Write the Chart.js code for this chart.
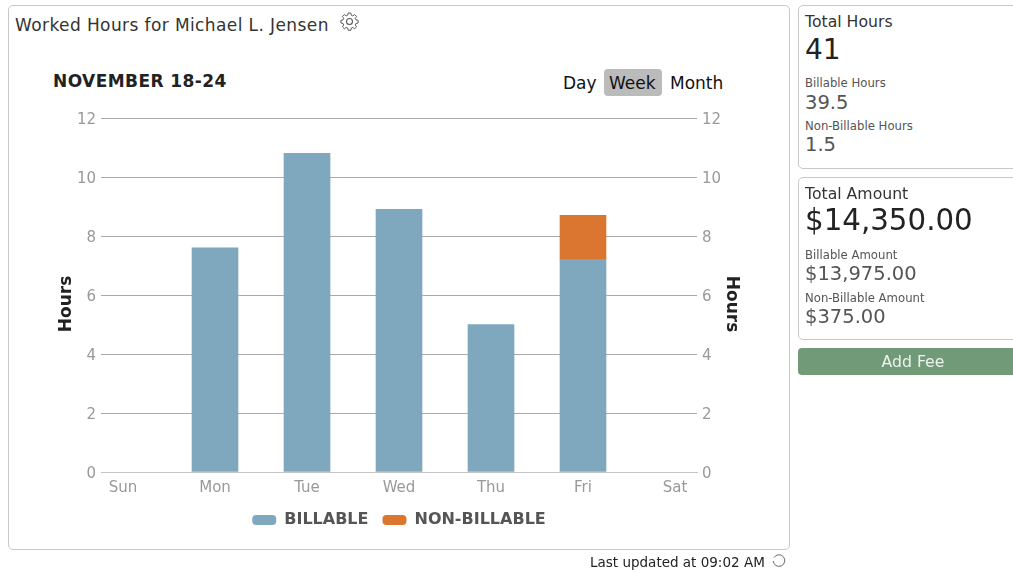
<!DOCTYPE html>
<html><head><meta charset="utf-8">
<script src="https://cdn.jsdelivr.net/npm/chart.js@4"></script>
<style>
html,body{margin:0;padding:0;background:#fff;overflow:hidden;width:1013px;height:571px;font-family:"DejaVu Sans",sans-serif;color:#222}
.abs{position:absolute;white-space:nowrap}
.card{position:absolute;background:#fff;border:1px solid #c8c8c8;border-radius:5px;box-sizing:border-box}
#chartWrap{position:absolute;left:0;top:0;width:800px;height:560px}
</style></head><body>
<div class="card" style="left:8px;top:5px;width:782px;height:545px"></div>
<div class="abs" style="left:15px;top:16px;font-size:17px;letter-spacing:.4px;line-height:19px;color:#333">Worked Hours for Michael L. Jensen</div>
<svg class="abs" style="left:339px;top:11px" width="21" height="21" viewBox="0 0 24 24" fill="none" stroke="#555" stroke-width="1.2"><circle cx="12" cy="12" r="3.4"/><path d="M10.3 2.5h3.4l.5 2.7 1.9.8 2.3-1.6 2.4 2.4-1.6 2.3.8 1.9 2.7.5v3.4l-2.7.5-.8 1.9 1.6 2.3-2.4 2.4-2.3-1.6-1.9.8-.5 2.7h-3.4l-.5-2.7-1.9-.8-2.3 1.6-2.4-2.4 1.6-2.3-.8-1.9-2.7-.5v-3.4l2.7-.5.8-1.9-1.6-2.3 2.4-2.4 2.3 1.6 1.9-.8z" transform="translate(12 12) scale(.92) translate(-12 -13)"/></svg>
<div class="abs" style="left:53px;top:71px;font-size:17px;letter-spacing:.42px;line-height:20px;font-weight:bold;color:#222">NOVEMBER 18-24</div>
<div class="abs" style="left:604px;top:69px;width:58px;height:27px;background:#bbb;border-radius:4px"></div>
<div class="abs" style="left:563px;top:73px;font-size:17px;line-height:20px;color:#111">Day</div>
<div class="abs" style="left:609px;top:73px;font-size:17px;line-height:20px;color:#111">Week</div>
<div class="abs" style="left:670px;top:73px;font-size:17px;line-height:20px;color:#111">Month</div>
<div id="chartWrap"><canvas id="c"></canvas></div>
<div class="abs" style="left:590px;top:554px;font-size:13.5px;line-height:17px;color:#222">Last updated at 09:02 AM</div>
<svg class="abs" style="left:772px;top:554px" width="14" height="14" viewBox="0 0 14 14" fill="none" stroke="#666" stroke-width="1"><path d="M2 3.6A5.8 5.8 0 1 1 1.2 7"/></svg>

<div class="card" style="left:798px;top:5px;width:230px;height:164px"></div>
<div class="abs" style="left:805px;top:13px;font-size:15.7px;line-height:18px;color:#333">Total Hours</div>
<div class="abs" style="left:805px;top:33px;font-size:28px;line-height:33px;color:#222">41</div>
<div class="abs" style="left:805px;top:76px;font-size:11.7px;line-height:14px;color:#555">Billable Hours</div>
<div class="abs" style="left:805px;top:91px;font-size:19.5px;line-height:23px;color:#555">39.5</div>
<div class="abs" style="left:805px;top:119px;font-size:11.7px;line-height:14px;color:#555">Non-Billable Hours</div>
<div class="abs" style="left:805px;top:133px;font-size:19.5px;line-height:23px;color:#555">1.5</div>

<div class="card" style="left:798px;top:177px;width:230px;height:163px"></div>
<div class="abs" style="left:805px;top:185px;font-size:15.7px;line-height:18px;color:#333">Total Amount</div>
<div class="abs" style="left:805px;top:204px;font-size:29.3px;line-height:33px;color:#222">$14,350.00</div>
<div class="abs" style="left:805px;top:248px;font-size:11.7px;line-height:14px;color:#555">Billable Amount</div>
<div class="abs" style="left:805px;top:262px;font-size:19.5px;line-height:23px;color:#555">$13,975.00</div>
<div class="abs" style="left:805px;top:291px;font-size:11.7px;line-height:14px;color:#555">Non-Billable Amount</div>
<div class="abs" style="left:805px;top:305px;font-size:19.5px;line-height:23px;color:#555">$375.00</div>

<div class="abs" style="left:798px;top:348px;width:230px;height:27px;background:#719a78;border-radius:4px"></div>
<div class="abs" style="left:798px;top:352px;width:230px;text-align:center;font-size:15.7px;line-height:19px;color:#eef3ee">Add Fee</div>

<script>
const days = ["Sun","Mon","Tue","Wed","Thu","Fri","Sat"];
const billable = [null,7.6,10.8,8.9,5.0,7.2,null];
const nonBillable = [null,null,null,null,null,1.5,null];
const yTicks = [0,2,4,6,8,10,12];
const seriesNames = ["BILLABLE","NON-BILLABLE"];
const seriesColors = ["#7fa8bf","#db7631"];
const tickColor = "#999";
const gridColor = "#aaaaaa";
const font = "'DejaVu Sans'";

const toPoints = arr => arr.map((y,x)=>({x,y}));
// shift a scale's title / labels a little when they are painted
function nudge(s, method, dx, dy){
  if (Object.prototype.hasOwnProperty.call(s, method)) return;
  const orig = s[method].bind(s);
  s[method] = (...a)=>{ const ctx=s.ctx; ctx.save(); ctx.translate(dx,dy); orig(...a); ctx.restore(); };
}
const yAxis = (position)=>({
  type:"linear",position,stacked:true,min:0,max:12,
  afterFit(s){s.width=46;},
  afterUpdate(s){
    nudge(s,"drawTitle",position==="left"?1:-1,9);
    nudge(s,"drawLabels",0,2.5);
  },
  grid:{color:position==="left"?gridColor:"transparent",lineWidth:1,drawTicks:false},
  border:{display:false},
  ticks:{stepSize:2,padding:5,color:tickColor,font:{family:font,size:15}},
  afterBuildTicks(s){s.ticks=yTicks.map(value=>({value}));},
  title:{display:true,text:"Hours",color:"#222",padding:0,font:{family:font,size:17,weight:"bold"}}
});
new Chart(document.getElementById("c"),{
  type:"bar",
  data:{datasets:[
    {label:seriesNames[0],data:toPoints(billable),backgroundColor:seriesColors[0],borderWidth:0,barThickness:46,yAxisID:"y",stack:"s"},
    {label:seriesNames[1],data:toPoints(nonBillable),backgroundColor:seriesColors[1],borderWidth:0,barThickness:46,yAxisID:"y",stack:"s"}
  ]},
  options:{
    responsive:true,maintainAspectRatio:false,animation:false,
    devicePixelRatio:1,
    layout:{padding:{left:55,right:57,top:118,bottom:22}},
    scales:{
      x:{type:"linear",offset:false,stacked:true,position:"bottom",min:-22/92,max:6+22/92,
        grid:{display:false,drawTicks:false},
        border:{display:true,color:"#c4c4c4",width:1},
        afterBuildTicks(s){s.ticks=days.map((d,i)=>({value:i}));},
        afterFit(s){s.height=26;},
        ticks:{padding:7,autoSkip:false,maxRotation:0,color:tickColor,font:{family:font,size:15},callback:v=>days[v]}
      },
      y:yAxis("left"),
      y2:yAxis("right")
    },
    plugins:{
      tooltip:{enabled:false},
      legend:{position:"bottom",labels:{boxWidth:24,boxHeight:10,useBorderRadius:true,borderRadius:4,padding:14,color:"#555",font:{family:font,size:16,weight:"bold"}}}
    }
  }
});
</script>
</body></html>
